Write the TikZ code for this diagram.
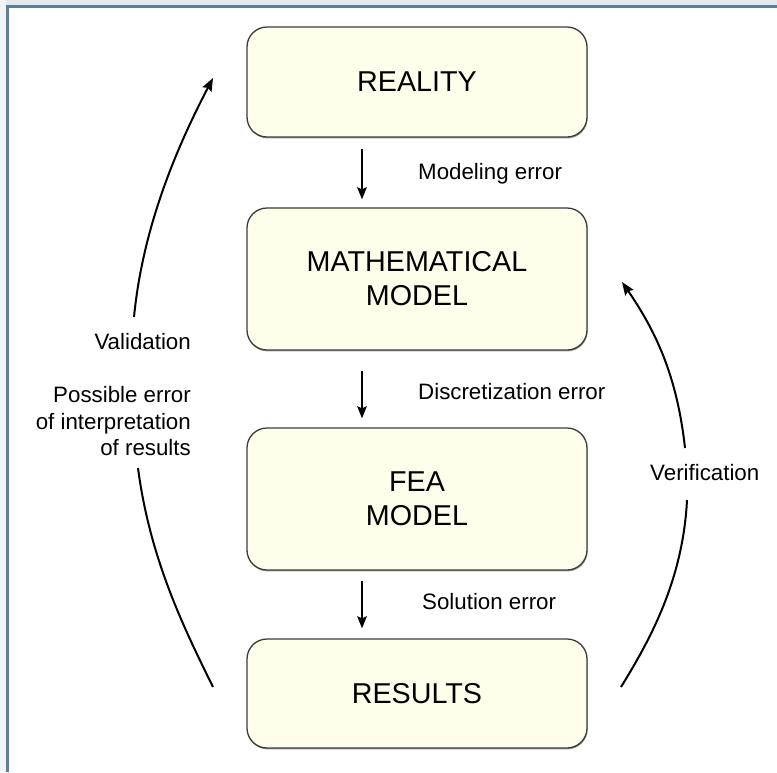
\documentclass[tikz,border=0pt]{standalone}
\usepackage{fontspec}
\setmainfont{Liberation Sans}
\usetikzlibrary{arrows.meta,shadows}
\definecolor{boxfill}{HTML}{FFFEEA}
\definecolor{boxline}{HTML}{3C3C3C}
\definecolor{framebg}{HTML}{E3E9EE}
\definecolor{frameside}{HTML}{F0F4F7}
\definecolor{frameline}{HTML}{5E7F99}
\tikzset{
  box/.style={draw=boxline, line width=1.3pt, fill=boxfill, rounded corners=20pt,
    minimum width=340pt, align=center, inner sep=0pt,
    font=\fontsize{28.7}{34}\selectfont,
    drop shadow={shadow xshift=0.6pt, shadow yshift=-1.4pt, opacity=0.55, fill=black!70}},
  lbl/.style={inner sep=0pt, font=\fontsize{22.3}{26.5}\selectfont},
  varrow/.style={line width=2pt, -{Stealth[length=12pt,width=9.5pt,inset=2pt]}},
  carrow/.style={line width=2pt, -{Stealth[length=13pt,width=10pt,inset=2pt]}},
  cline/.style={line width=2pt}
}
\begin{document}
\begin{tikzpicture}[x=1pt,y=-1pt]
\useasboundingbox (0,0) rectangle (777,772);
\fill[white] (0,0) rectangle (777,772);
% frame
\fill[framebg] (0,0) rectangle (777,5);
\fill[frameside] (0,0) rectangle (5.5,772);
\fill[frameline] (5.5,5) rectangle (777,7.7);
\fill[frameline] (5.5,5) rectangle (8.5,772);

% boxes
\node[box, minimum height=110pt] (reality) at (417,82) {REALITY};
\node[box, minimum height=142pt] (math) at (417,279) {MATHEMATICAL\\MODEL};
\node[box, minimum height=142pt] (fea) at (417,499) {FEA\\MODEL};
\node[box, minimum height=109pt] (results) at (417,693.5) {RESULTS};

% vertical arrows
\draw[varrow] ([xshift=-55pt,yshift=-11pt]reality.south) -- ([xshift=-55pt,yshift=8pt]math.north);
\draw[varrow] ([xshift=-55pt,yshift=-20pt]math.south) -- ([xshift=-55pt,yshift=9pt]fea.north);
\draw[varrow] ([xshift=-55pt,yshift=-10pt]fea.south) -- ([xshift=-55pt,yshift=10pt]results.north);

% labels for arrows
\node[lbl, anchor=base west] (lmod) at (418,179) {Modeling error};
\node[lbl, anchor=base west] (ldis) at (418,399) {Discretization error};
\node[lbl, anchor=base west] (lsol) at (422,609) {Solution error};

% left labels
\node[lbl, anchor=base east] (lval) at (191,349) {Validation};
\node[lbl, anchor=base east] (lpos1) at (191,402) {Possible error};
\node[lbl, anchor=base east] (lpos2) at (191,429) {of interpretation};
\node[lbl, anchor=base east] (lpos3) at (191,455) {of results};
% right label
\node[lbl, anchor=base west] (lver) at (650,480) {Verification};

% curve end points
\coordinate (vu0) at (134,317);
\coordinate (vu1) at (213,78);
\coordinate (vl0) at (138,468);
\coordinate (vl1) at (213,687);
\coordinate (ru0) at (685,448);
\coordinate (ru1) at (622,282);
\coordinate (rl0) at (687,500);
\coordinate (rl1) at (621,687);

\draw[carrow] (vu0) .. controls (143,225) and (178,145) .. (vu1);
\draw[cline] (vl0) .. controls (150,560) and (185,630) .. (vl1);
\draw[carrow] (ru0) .. controls (677,375) and (655,330) .. (ru1);
\draw[cline] (rl0) .. controls (683,580) and (650,640) .. (rl1);
\end{tikzpicture}
\end{document}
